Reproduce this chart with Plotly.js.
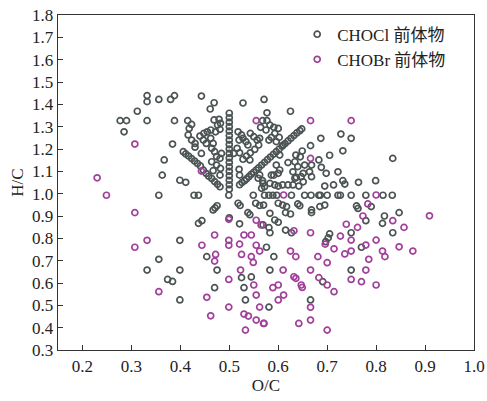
<!DOCTYPE html>
<html>
<head>
<meta charset="utf-8">
<script src="https://cdn.plot.ly/plotly-3.0.1.min.js"></script>
<style>html,body{margin:0;padding:0;background:#fff;}#chart{width:487px;height:401px;}</style>
</head>
<body>
<div id="chart"></div>
<script>
// CHOCl precursors (O/C, H/C)
const choclScattered = [
  [0.332,1.439],[0.332,1.412],[0.356,1.422],[0.380,1.422],[0.388,1.439],[0.443,1.437],[0.469,1.407],[0.461,1.379],
  [0.528,1.406],[0.571,1.422],[0.577,1.362],[0.625,1.369],[0.312,1.369],[0.277,1.327],[0.290,1.327],[0.332,1.327],
  [0.388,1.327],[0.285,1.277],[0.415,1.327],[0.423,1.310],[0.418,1.292],[0.416,1.263],[0.423,1.240],[0.430,1.225],
  [0.384,1.222],[0.430,1.208],[0.443,1.180],[0.367,1.151],[0.363,1.083],[0.399,1.060],[0.411,1.051],[0.356,0.993],
  [0.428,0.993],[0.437,0.993],[0.437,0.867],[0.444,0.879],[0.399,0.791],[0.356,0.706],[0.332,0.658],[0.399,0.658],
  [0.374,0.616],[0.384,0.607],[0.399,0.524]
];
const choclLower = [
  [0.454,0.718],[0.475,0.658],[0.470,0.579],[0.525,0.624],[0.545,0.627],[0.530,0.579],[0.533,0.524],[0.581,0.492],
  [0.583,0.658],[0.591,0.718],[0.666,0.524],[0.691,0.606],[0.749,0.658],[0.576,0.760],[0.500,0.892],[0.521,0.865],
  [0.705,0.820],[0.702,0.802],[0.697,0.785],[0.770,0.760]
];
const choclUpper = [
  [0.568,1.327],[0.577,1.327],[0.583,1.307],[0.564,1.297],[0.575,1.285],[0.591,1.297],[0.600,1.292],[0.593,1.270],
  [0.602,1.252],[0.586,1.252],[0.581,1.240],[0.596,1.233],[0.440,1.258],[0.448,1.270],[0.455,1.277],[0.462,1.285],
  [0.469,1.330],[0.479,1.333],[0.482,1.315],[0.476,1.307],[0.481,1.288],[0.472,1.277],[0.447,1.240],[0.453,1.225],
  [0.462,1.248],[0.467,1.225],[0.464,1.203],[0.470,1.188],[0.474,1.166],[0.481,1.158],[0.484,1.180],[0.518,1.277],
  [0.525,1.263],[0.520,1.240],[0.528,1.248],[0.534,1.233],[0.538,1.218],[0.543,1.270],[0.550,1.255],[0.557,1.240],
  [0.562,1.248],[0.560,1.218],[0.552,1.198],[0.543,1.183],[0.535,1.168],[0.528,1.154],[0.521,1.183],[0.516,1.203],
  [0.509,1.180],[0.464,1.143],[0.474,1.128],[0.482,1.113],[0.467,1.103],[0.481,1.083],[0.520,1.109],[0.521,1.083],
  [0.542,1.151],[0.603,1.173],[0.610,1.218],[0.596,1.128],[0.603,1.106],[0.586,1.083]
];
const choclColumn = [
  [0.500,1.360],[0.500,1.340],[0.500,1.320],[0.500,1.300],[0.500,1.280],[0.500,1.260],[0.500,1.240],[0.500,1.220],
  [0.500,1.200],[0.500,1.180],[0.500,1.160],[0.500,1.140],[0.500,1.120],[0.500,1.100],[0.500,1.080],[0.500,1.060],
  [0.500,1.040],[0.500,1.020]
];
const choclRow = [
  [0.499,0.993],[0.549,0.993],[0.572,0.993],[0.581,0.993],[0.589,0.993],[0.597,0.993],[0.627,0.993],[0.654,0.993],
  [0.667,0.993],[0.683,0.993],[0.686,0.993],[0.700,0.993],[0.722,0.993],[0.727,0.993],[0.749,0.993],[0.779,0.993],
  [0.814,0.993],[0.833,0.993]
];
const choclDiagA = [
  [0.406,1.188],[0.411,1.178],[0.417,1.168],[0.423,1.157],[0.429,1.146],[0.435,1.135],[0.441,1.124],[0.447,1.105],
  [0.453,1.090],[0.458,1.078],[0.464,1.068],[0.470,1.054],[0.476,1.042],[0.481,1.031]
];
const choclDiagC = [
  [0.467,0.927],[0.471,0.936],[0.475,0.946],[0.521,1.040],[0.526,1.050],[0.531,1.058],[0.535,1.066],[0.540,1.076],
  [0.545,1.087],[0.550,1.096],[0.555,1.106],[0.560,1.116],[0.566,1.128],[0.572,1.140],[0.578,1.152],[0.584,1.164],
  [0.590,1.176],[0.596,1.188],[0.602,1.200],[0.608,1.212],[0.614,1.224],[0.620,1.236],[0.626,1.248],[0.632,1.260],
  [0.638,1.272],[0.644,1.282],[0.648,1.290]
];
const choclRight = [
  [0.591,1.083],[0.600,1.091],[0.630,1.098],[0.651,1.091],[0.664,1.098],[0.698,1.091],[0.722,1.098],[0.634,1.069],
  [0.647,1.076],[0.668,1.076],[0.651,1.053],[0.642,1.034],[0.630,1.039],[0.620,1.039],[0.609,1.039],[0.600,1.034],
  [0.593,1.039],[0.583,1.046],[0.568,1.058],[0.732,1.058],[0.736,1.043],[0.764,1.051],[0.799,1.058],[0.695,1.034],
  [0.713,1.039],[0.562,1.084],[0.559,1.069],[0.569,1.046],[0.572,1.031],[0.566,1.024],
  [0.570,0.949],[0.600,0.957],[0.609,0.949],[0.640,0.954],[0.644,0.946],[0.668,0.927],[0.668,0.915],[0.685,0.942],
  [0.695,0.949],[0.760,0.945],[0.763,0.934],[0.790,0.942],[0.583,0.912],[0.593,0.882],[0.600,0.872],[0.615,0.915],
  [0.625,0.909],[0.569,0.860],[0.583,0.825],[0.615,0.837],[0.627,0.825],[0.817,0.900],[0.847,0.915],[0.813,0.867],
  [0.834,0.825],[0.779,0.879],[0.749,0.825],[0.518,0.957],[0.522,0.947],[0.538,0.915],[0.542,0.906],[0.554,0.957],
  [0.562,0.947],[0.581,0.848],[0.617,0.942]
];
const choclUpperRight = [
  [0.687,1.248],[0.728,1.267],[0.749,1.248],[0.666,1.215],[0.705,1.172],[0.732,1.192],[0.834,1.158],[0.683,1.151],
  [0.688,1.118],[0.636,1.173],[0.649,1.191],[0.645,1.165],[0.634,1.143],[0.620,1.139],[0.654,1.128],[0.640,1.121],
  [0.668,1.128],[0.637,1.073]
];
// CHOBr precursors
const chobrPoints = [
  [0.555,1.327],[0.749,1.327],[0.666,1.327],[0.307,1.222],[0.230,1.071],[0.249,0.993],[0.443,1.101],[0.666,1.158],
  [0.307,0.915],[0.332,0.791],[0.307,0.760],[0.356,0.561],[0.444,0.769],[0.470,0.815],[0.472,0.728],[0.470,0.698],
  [0.499,0.885],[0.499,0.791],[0.499,0.769],[0.521,0.774],[0.530,0.815],[0.525,0.728],[0.545,0.815],[0.555,0.881],
  [0.565,0.860],[0.555,0.769],[0.562,0.743],[0.545,0.718],[0.549,0.692],[0.523,0.658],[0.499,0.616],[0.550,0.591],
  [0.555,0.546],[0.562,0.492],[0.499,0.492],[0.454,0.536],[0.462,0.453],[0.530,0.461],[0.539,0.452],[0.555,0.434],
  [0.571,0.419],[0.533,0.389],[0.611,0.994],[0.800,0.994],[0.783,0.954],[0.773,0.900],[0.834,0.879],[0.857,0.849],
  [0.909,0.901],[0.739,0.863],[0.762,0.849],[0.632,0.834],[0.666,0.825],[0.727,0.810],[0.749,0.792],[0.696,0.774],
  [0.714,0.753],[0.779,0.770],[0.800,0.792],[0.847,0.762],[0.875,0.743],[0.813,0.743],[0.818,0.718],[0.736,0.730],
  [0.749,0.743],[0.681,0.718],[0.700,0.691],[0.785,0.706],[0.625,0.743],[0.636,0.718],[0.610,0.658],[0.666,0.658],
  [0.779,0.658],[0.749,0.616],[0.770,0.606],[0.800,0.591],[0.632,0.628],[0.636,0.621],[0.683,0.624],[0.700,0.591],
  [0.714,0.561],[0.647,0.591],[0.649,0.580],[0.589,0.579],[0.600,0.591],[0.611,0.546],[0.600,0.524],[0.666,0.491],
  [0.666,0.434],[0.642,0.419],[0.700,0.389],[0.570,0.419]
];
const seriesNames = ['CHOCl 前体物', 'CHOBr 前体物'];
const xTicks = [0.2,0.3,0.4,0.5,0.6,0.7,0.8,0.9,1.0];
const yTicks = [0.3,0.4,0.5,0.6,0.7,0.8,0.9,1.0,1.1,1.2,1.3,1.4,1.5,1.6,1.7,1.8];

const chocl = [].concat(choclScattered, choclLower, choclUpper, choclColumn, choclRow, choclDiagA, choclDiagC, choclRight, choclUpperRight);

const FONT = 'Liberation Serif, Times New Roman, Noto Sans CJK SC, serif';
const traces = [
  {x: chocl.map(p=>p[0]), y: chocl.map(p=>p[1]), name: seriesNames[0], type:'scatter', mode:'markers',
   marker:{symbol:'circle-open', size:6, color:'#4b5354', line:{width:1.7}}},
  {x: chobrPoints.map(p=>p[0]), y: chobrPoints.map(p=>p[1]), name: seriesNames[1], type:'scatter', mode:'markers',
   marker:{symbol:'circle-open', size:6, color:'#a1409a', line:{width:1.7}}}
];
const axisCommon = {showgrid:false, zeroline:false, showline:true, linecolor:'#333', linewidth:1.3, mirror:true,
  ticks:'inside', ticklen:5, tickwidth:1, tickcolor:'#333', tickfont:{family:FONT, size:17, color:'#222'}, tickformat:'.1f'};
const layout = {
  width:487, height:401,
  margin:{l:58, r:13, t:15, b:51},
  paper_bgcolor:'#fff', plot_bgcolor:'#fff',
  font:{family:FONT, color:'#222'},
  showlegend:true,
  legend:{x:0.575, y:0.995, xanchor:'left', yanchor:'top', bgcolor:'rgba(0,0,0,0)', font:{family:FONT, size:17, color:'#222'}, tracegroupgap:0},
  xaxis: Object.assign({}, axisCommon, {range:[0.15,1.0], tickvals:xTicks, title:{text:'O/C', font:{family:FONT, size:17, color:'#222'}, standoff:4}}),
  yaxis: Object.assign({}, axisCommon, {range:[0.3,1.8], tickvals:yTicks, title:{text:'H/C', font:{family:FONT, size:17, color:'#222'}, standoff:4}})
};
Plotly.newPlot('chart', traces, layout, {staticPlot:true, displayModeBar:false});
</script>
</body>
</html>
